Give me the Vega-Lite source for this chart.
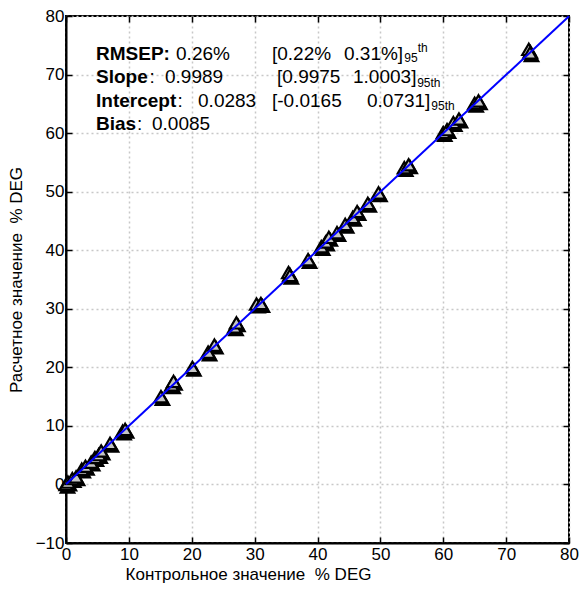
{
  "$schema": "https://vega.github.io/schema/vega-lite/v6.json",
  "width": 503,
  "height": 527,
  "autosize": {"type": "none"},
  "padding": {"left": 66, "top": 16, "right": 10, "bottom": 48},
  "background": "white",
  "config": {
    "font": "Liberation Sans",
    "view": {"stroke": "black", "strokeWidth": 2},
    "axis": {
      "labelFont": "Liberation Sans",
      "titleFont": "Liberation Sans",
      "labelFontSize": 17,
      "titleFontSize": 17,
      "titleFontWeight": "normal",
      "labelColor": "black",
      "titleColor": "black",
      "domainColor": "black",
      "domainWidth": 2,
      "tickColor": "black",
      "tickWidth": 1.5,
      "tickSize": -6,
      "gridColor": "#c8c8c8",
      "gridDash": [2, 3],
      "gridWidth": 1.5
    }
  },
  "datasets": {
    "pts": [
      {"ref": 0.0, "pred": 0.0}, {"ref": 0.3, "pred": 0.4}, {"ref": 1.0, "pred": 1.0},
      {"ref": 1.6, "pred": 1.3}, {"ref": 2.5, "pred": 2.6}, {"ref": 3.1, "pred": 3.1},
      {"ref": 4.0, "pred": 3.8}, {"ref": 4.6, "pred": 4.6}, {"ref": 5.2, "pred": 5.1},
      {"ref": 5.6, "pred": 5.7}, {"ref": 7.0, "pred": 7.0}, {"ref": 9.0, "pred": 9.1},
      {"ref": 9.4, "pred": 9.4}, {"ref": 15.1, "pred": 15.0}, {"ref": 16.8, "pred": 17.0},
      {"ref": 17.1, "pred": 17.6}, {"ref": 20.1, "pred": 20.0}, {"ref": 22.6, "pred": 22.6},
      {"ref": 23.6, "pred": 23.8}, {"ref": 26.8, "pred": 26.9}, {"ref": 27.1, "pred": 27.6},
      {"ref": 30.3, "pred": 30.8}, {"ref": 31.0, "pred": 30.9}, {"ref": 35.4, "pred": 36.2},
      {"ref": 35.6, "pred": 35.7}, {"ref": 38.5, "pred": 38.4}, {"ref": 40.6, "pred": 40.6},
      {"ref": 41.3, "pred": 41.4}, {"ref": 41.8, "pred": 42.2}, {"ref": 43.1, "pred": 43.0},
      {"ref": 44.4, "pred": 44.4}, {"ref": 45.6, "pred": 45.6}, {"ref": 46.3, "pred": 46.6},
      {"ref": 48.0, "pred": 48.0}, {"ref": 49.7, "pred": 49.8}, {"ref": 53.8, "pred": 54.1},
      {"ref": 54.5, "pred": 54.6}, {"ref": 60.0, "pred": 60.1}, {"ref": 60.6, "pred": 60.6},
      {"ref": 61.6, "pred": 61.8}, {"ref": 62.5, "pred": 62.4}, {"ref": 65.0, "pred": 65.1},
      {"ref": 65.6, "pred": 65.5}, {"ref": 73.6, "pred": 74.3}, {"ref": 73.8, "pred": 73.7}
    ],
    "fit": [{"ref": 0, "pred": 0.0283}, {"ref": 80, "pred": 79.94}],
    "bold": [
      {"ref": 4.77, "pred": 72.49, "t": "RMSEP:"},
      {"ref": 4.77, "pred": 68.56, "t": "Slope"},
      {"ref": 4.77, "pred": 64.46, "t": "Intercept"},
      {"ref": 4.77, "pred": 60.53, "t": "Bias"}
    ],
    "normal": [
      {"ref": 17.5, "pred": 72.49, "t": "0.26%"},
      {"ref": 32.76, "pred": 72.49, "t": "[0.22%"},
      {"ref": 44.21, "pred": 72.49, "t": "0.31%]"},
      {"ref": 13.3, "pred": 68.56, "t": ":"},
      {"ref": 15.75, "pred": 68.56, "t": "0.9989"},
      {"ref": 33.56, "pred": 68.56, "t": "[0.9975"},
      {"ref": 45.65, "pred": 68.56, "t": "1.0003]"},
      {"ref": 17.75, "pred": 64.46, "t": ":"},
      {"ref": 21.0, "pred": 64.46, "t": "0.0283"},
      {"ref": 32.76, "pred": 64.46, "t": "[-0.0165"},
      {"ref": 47.87, "pred": 64.46, "t": "0.0731]"},
      {"ref": 11.29, "pred": 60.53, "t": ":"},
      {"ref": 13.68, "pred": 60.53, "t": "0.0085"}
    ],
    "small": [
      {"ref": 53.8, "pred": 72.14, "t": "95"},
      {"ref": 55.95, "pred": 73.9, "t": "th"},
      {"ref": 55.85, "pred": 67.93, "t": "95th"},
      {"ref": 58.1, "pred": 63.95, "t": "95th"}
    ]
  },
  "layer": [
    {
      "data": {"name": "pts"},
      "mark": {"type": "point", "shape": "triangle-up", "filled": true, "fill": "black", "stroke": "black", "strokeWidth": 2.5, "size": 170, "opacity": 1, "xOffset": 1.5, "yOffset": 2.5},
      "encoding": {
        "x": {
          "field": "ref", "type": "quantitative",
          "scale": {"domain": [0, 80], "nice": false, "zero": false},
          "axis": {
            "values": [0, 10, 20, 30, 40, 50, 60, 70, 80],
            "title": "Контрольное значение\u00a0\u00a0% DEG",
            "titleX": 182, "titleAlign": "center", "titlePadding": 4,
            "labelPadding": 9, "labelFlush": false
          }
        },
        "y": {
          "field": "pred", "type": "quantitative",
          "scale": {"domain": [-10, 80], "nice": false, "zero": false},
          "axis": {
            "values": [-10, 0, 10, 20, 30, 40, 50, 60, 70, 80],
            "title": "Расчетное значение\u00a0\u00a0% DEG",
            "titlePadding": 10, "labelPadding": 8, "labelFlush": false
          }
        }
      }
    },
    {
      "data": {"name": "pts"},
      "mark": {"type": "point", "shape": "triangle-up", "filled": true, "fill": "#c4c4c4", "stroke": "black", "strokeWidth": 2.2, "size": 170, "opacity": 1},
      "encoding": {
        "x": {"field": "ref", "type": "quantitative", "axis": null},
        "y": {"field": "pred", "type": "quantitative", "axis": null}
      }
    },
    {
      "data": {"name": "fit"},
      "mark": {"type": "line", "color": "#0000ff", "strokeWidth": 2},
      "encoding": {
        "x": {"field": "ref", "type": "quantitative",
          "axis": {"orient": "top", "values": [0, 10, 20, 30, 40, 50, 60, 70, 80], "labels": false, "grid": false, "title": null, "domain": false}},
        "y": {"field": "pred", "type": "quantitative",
          "axis": {"orient": "right", "values": [-10, 0, 10, 20, 30, 40, 50, 60, 70, 80], "labels": false, "grid": false, "title": null, "domain": false}}
      }
    },
    {
      "data": {"name": "bold"},
      "mark": {"type": "text", "align": "left", "baseline": "alphabetic", "fontSize": 19, "fontWeight": "bold", "color": "black", "font": "Liberation Sans"},
      "encoding": {
        "x": {"field": "ref", "type": "quantitative", "axis": null},
        "y": {"field": "pred", "type": "quantitative", "axis": null},
        "text": {"field": "t"}
      }
    },
    {
      "data": {"name": "normal"},
      "mark": {"type": "text", "align": "left", "baseline": "alphabetic", "fontSize": 19, "color": "black", "font": "Liberation Sans"},
      "encoding": {
        "x": {"field": "ref", "type": "quantitative", "axis": null},
        "y": {"field": "pred", "type": "quantitative", "axis": null},
        "text": {"field": "t"}
      }
    },
    {
      "data": {"name": "small"},
      "mark": {"type": "text", "align": "left", "baseline": "alphabetic", "fontSize": 12, "color": "black", "font": "Liberation Sans"},
      "encoding": {
        "x": {"field": "ref", "type": "quantitative", "axis": null},
        "y": {"field": "pred", "type": "quantitative", "axis": null},
        "text": {"field": "t"}
      }
    }
  ],
  "resolve": {"axis": {"x": "independent", "y": "independent"}}
}
